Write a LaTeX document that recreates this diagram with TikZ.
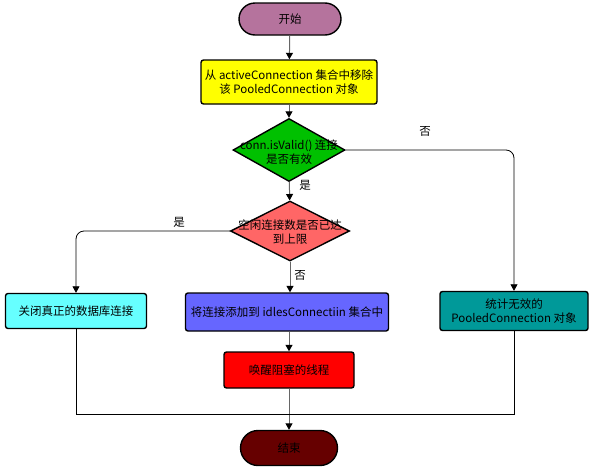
\documentclass[tikz,border=0pt]{standalone}
\usepackage{fontspec}
\setmainfont{Noto Sans CJK SC}
\usetikzlibrary{shapes.geometric,shapes.misc,arrows.meta}
\definecolor{cstart}{HTML}{B5739D}
\definecolor{cyel}{HTML}{FFFF00}
\definecolor{cgreen}{HTML}{00C000}
\definecolor{cpink}{HTML}{FF6666}
\definecolor{ccyan}{HTML}{66FFFF}
\definecolor{cblue}{HTML}{6666FF}
\definecolor{cteal}{HTML}{009999}
\definecolor{cred}{HTML}{FF0000}
\definecolor{cend}{HTML}{660000}
\tikzset{
  base/.style={draw=black, line width=1.4pt, font=\fontsize{11.5}{14}\selectfont, align=center, inner sep=0pt},
  terminal/.style={base, rounded rectangle},
  procbox/.style={base, rectangle, rounded corners=2.5pt},
  decision/.style={base, diamond},
  flow/.style={draw=black!60, line width=1pt, -{Triangle[width=7pt,length=6.5pt,fill=black,color=black]}},
  branch/.style={draw=black, line width=0.8pt, rounded corners=8pt, -{Triangle[width=7pt,length=6.5pt]}},
  plain/.style={draw=black, line width=0.8pt},
  lab/.style={font=\fontsize{11.5}{14}\selectfont, inner sep=0pt}
}
\begin{document}
\begin{tikzpicture}[x=1pt,y=-1pt]
\useasboundingbox (0,0) rectangle (594,469);
\node[terminal, fill=cstart, minimum width=102pt, minimum height=32pt] (start) at (290,19) {开始};
\node[procbox, fill=cyel, minimum width=176pt, minimum height=44pt] (rm) at (289,82) {从 activeConnection 集合中移除\\该 PooledConnection 对象};
\node[decision, fill=cgreen, minimum width=112pt, minimum height=63pt] (valid) at (289,150) {};
\node[lab, align=center] (validt) at (289,152) {conn.isValid() 连接\\是否有效};
\node[decision, fill=cpink, minimum width=119pt, minimum height=60pt] (full) at (290,231) {};
\node[lab, align=center] (fullt) at (290,232) {空闲连接数是否已达\\到上限};
\node[procbox, fill=ccyan, minimum width=141pt, minimum height=35pt] (close) at (76,311) {关闭真正的数据库连接};
\node[procbox, fill=cblue, minimum width=203pt, minimum height=38pt] (add) at (287,312) {将连接添加到 idlesConnectiin 集合中};
\node[procbox, fill=cteal, minimum width=148pt, minimum height=39pt] (stat) at (514,311) {统计无效的\\PooledConnection 对象};
\node[procbox, fill=cred, minimum width=130pt, minimum height=36pt] (wake) at (289,370) {唤醒阻塞的线程};
\node[terminal, fill=cend, minimum width=97pt, minimum height=35pt] (end) at (289,448) {结束};
\coordinate (jl) at (76,414);
\coordinate (jr) at (514,414);
\draw[flow] (start) -- (rm);
\draw[flow] (rm) -- (valid);
\draw[flow] (valid) -- (full);
\draw[branch] (valid.east) -| (stat.north);
\draw[branch] (full.west) -| (close.north);
\draw[flow] (full.south) -- (full.south |- add.north);
\draw[flow] (add.south -| wake.north) -- (wake.north);
\draw[flow] (wake) -- (end);
\draw[plain] (close.south) -- (jl) -- (jr) -- (stat.south);
\node[lab] (l1) at (305,185) {是};
\node[lab] (l2) at (425,131) {否};
\node[lab] (l3) at (179,222) {是};
\node[lab] (l4) at (300,275) {否};
\end{tikzpicture}
\end{document}
